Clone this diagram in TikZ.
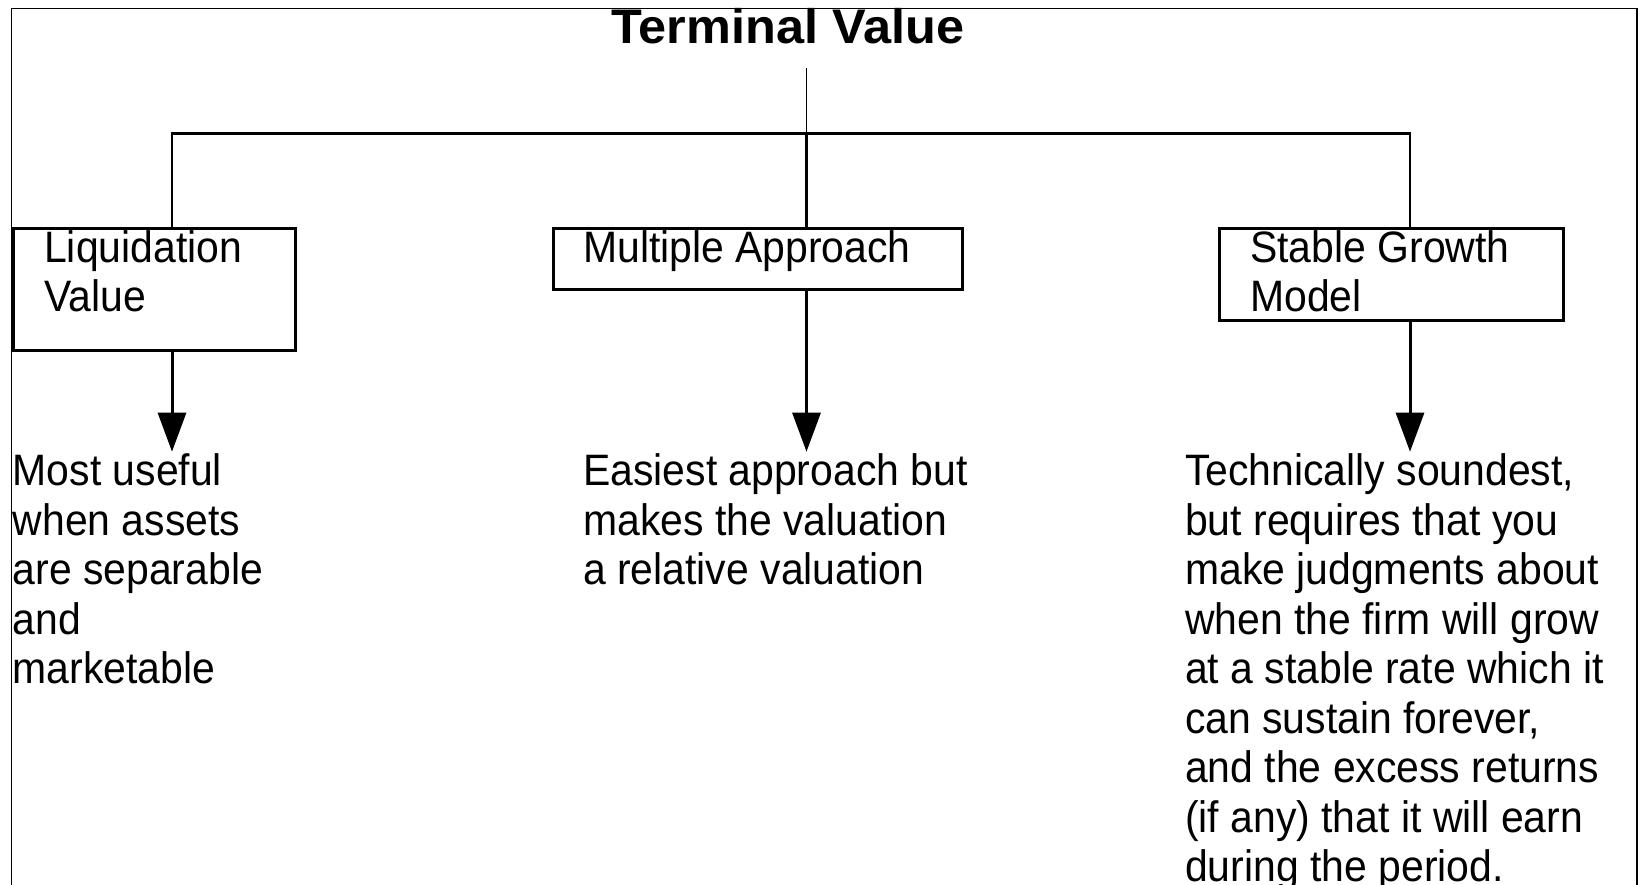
\documentclass[tikz,border=0pt]{standalone}
\usepackage{fontspec}
\setmainfont{Liberation Sans}
\newfontfamily\bodyfont[FakeStretch=0.93]{Liberation Sans}
\newfontfamily\headfont[FakeStretch=1.04]{Liberation Sans}
\usetikzlibrary{arrows.meta}

\tikzset{
  tvbox/.style={draw,line width=3pt,inner sep=0pt,outer sep=0pt,anchor=north west},
  tvtext/.style={anchor=base west,inner sep=0pt,align=left,
    font=\bodyfont\fontsize{44}{49.5}\selectfont},
  tvline/.style={line width=2.5pt},
  tvarrow/.style={line width=3pt,-{Triangle[length=39pt,width=28pt]}}
}

\begin{document}
\begin{tikzpicture}[x=1pt,y=-1pt]
\useasboundingbox (0,0) rectangle (1645,885);
\draw[line width=1.5pt] (11.5,890) -- (11.5,8.3) -- (1637,8.3) -- (1637,890);

\node[anchor=base,inner sep=0pt,font=\headfont\bfseries\fontsize{48.5}{50}\selectfont] (title) at (788,43.5) {Terminal Value};

% the three boxes
\node[tvbox,minimum width=281.7pt,minimum height=122pt] (liq) at (13.3,228.5) {};
\node[tvbox,minimum width=409pt,minimum height=60.5pt] (mult) at (553,228.5) {};
\node[tvbox,minimum width=344pt,minimum height=91.5pt] (stab) at (1219,228.5) {};

% labels: anchor is the baseline of the last line
\node[tvtext] (liqlbl) at (44,311.5) {Liquidation\\Value};
\node[tvtext] (multlbl) at (583,262) {Multiple Approach};
\node[tvtext] (stablbl) at (1250,311.5) {Stable Growth\\Model};

% tree
\coordinate (trunk) at (806.5,68);
\coordinate (liqtap) at (172,133.3);
\coordinate (stabtap) at (1410,133.3);
\draw[line width=1.5pt] (trunk) -- (trunk |- liqtap);
\draw[tvline] (trunk |- liqtap) -- (trunk |- mult.north);
\draw[tvline] (liqtap |- liq.north) -- (liqtap) -- (stabtap) -- (stabtap |- stab.north);

% arrows down to the notes
\coordinate (liqtip) at (172,451.7);
\coordinate (multtip) at (806.5,451.7);
\coordinate (stabtip) at (1410,451.7);
\draw[tvarrow] (liqtip |- liq.south) -- (liqtip);
\draw[tvarrow] (multtip |- mult.south) -- (multtip);
\draw[tvarrow] (stabtip |- stab.south) -- (stabtip);

\node[tvtext] (liqnote) at (12.6,683.7) {Most useful\\when assets\\are separable\\and\\marketable};
\node[tvtext] (multnote) at (583,584.7) {Easiest approach but\\makes the valuation\\a relative valuation};
\node[tvtext] (stabnote) at (1185,881.7) {Technically soundest,\\but requires that you\\make judgments about\\when the firm will grow\\at a stable rate which it\\can sustain forever,\\and the excess returns\\(if any) that it will earn\\during the period.};
\end{tikzpicture}
\end{document}
